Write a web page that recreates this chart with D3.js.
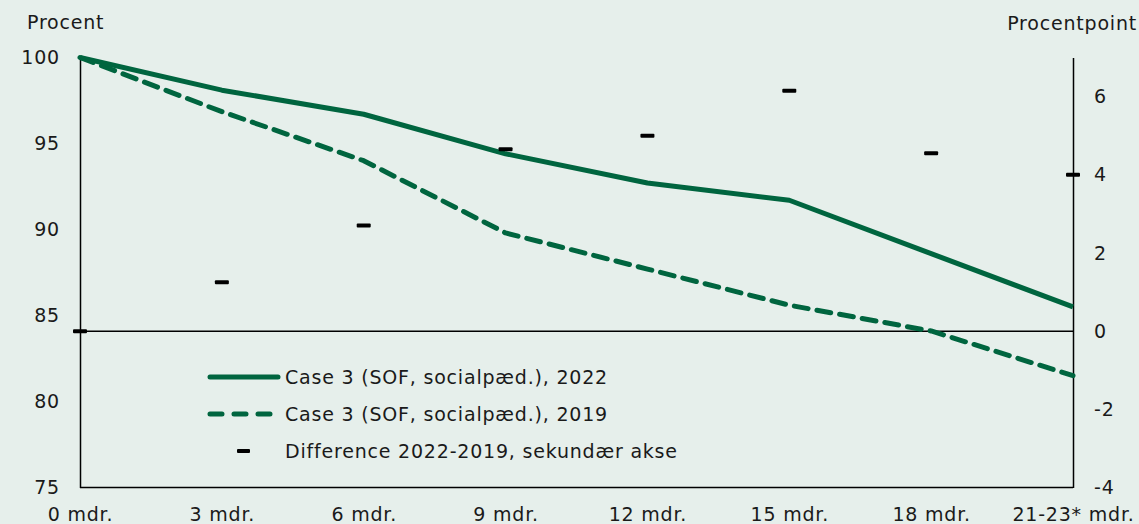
<!DOCTYPE html>
<html><head><meta charset="utf-8">
<script src="https://cdn.jsdelivr.net/npm/d3@7"></script>
<style>
html,body{margin:0;padding:0;background:#e6efeb;}
svg{display:block;}
svg text{letter-spacing:0.8px;}
</style></head>
<body><svg id="c" width="1139" height="524"></svg>
<script>
const categories = ["0 mdr.","3 mdr.","6 mdr.","9 mdr.","12 mdr.","15 mdr.","18 mdr.","21-23* mdr."];
const series2022 = [100, 98.1, 96.7, 94.4, 92.7, 91.7, 88.6, 85.5];
const series2019 = [100, 96.85, 94.0, 89.8, 87.7, 85.6, 84.1, 81.5];
const difference = [0, 1.25, 2.7, 4.65, 5.0, 6.15, 4.55, 4.0];
const leftTicks = [75, 80, 85, 90, 95, 100];
const rightTicks = [-4, -2, 0, 2, 4, 6];
const legendLabels = ["Case 3 (SOF, socialpæd.), 2022","Case 3 (SOF, socialpæd.), 2019","Difference 2022-2019, sekundær akse"];

const green = "#00653f";
const FONT = "'DejaVu Sans',sans-serif";
const svg = d3.select("#c").attr("font-family",FONT);
svg.append("rect").attr("width",1139).attr("height",524).attr("fill","#e6efeb");
const L=80, R=1073, T=57.5, B=487.5;
const x = d3.scalePoint().domain(categories).range([L,R]);
const yL = d3.scaleLinear().domain([75,100]).range([B,T]);
const yR = d3.scaleLinear().domain([-4,7]).range([B,T]);
const fs = 19;

const axL = svg.append("g").attr("transform",`translate(${L},0)`)
  .call(d3.axisLeft(yL).tickValues(leftTicks).tickSize(0).tickPadding(20));
const axR = svg.append("g").attr("transform",`translate(${R},0)`)
  .call(d3.axisRight(yR).tickValues(rightTicks).tickFormat(d=>String(d)).tickSize(0).tickPadding(21));
const axB = svg.append("g").attr("transform",`translate(0,${B})`)
  .call(d3.axisBottom(x).tickSize(0).tickPadding(20));
[axL,axR,axB].forEach(a=>{
  a.select(".domain").attr("stroke","#000").attr("stroke-width",1.5);
  a.selectAll("text").attr("font-size",fs).attr("fill","#1a1a1a").attr("font-family",FONT);
});
axB.select(".domain").remove();
svg.append("line").attr("x1",L).attr("x2",R).attr("y1",B).attr("y2",B).attr("stroke","#000").attr("stroke-width",1.5);
svg.append("line").attr("x1",L).attr("x2",R).attr("y1",yR(0)).attr("y2",yR(0)).attr("stroke","#000").attr("stroke-width",1.5);

svg.append("text").attr("x",27).attr("y",29).attr("font-size",fs).attr("fill","#1a1a1a").text("Procent");
svg.append("text").attr("x",1137).attr("y",30).attr("text-anchor","end").attr("font-size",fs).attr("fill","#1a1a1a").text("Procentpoint");

const line = d3.line().x((d,i)=>x(categories[i])).y(d=>yL(d));
svg.append("path").datum(series2019).attr("d",line).attr("fill","none").attr("stroke",green)
  .attr("stroke-width",5).attr("stroke-dasharray","14,9").attr("stroke-linecap","round").attr("stroke-linejoin","round");
svg.append("path").datum(series2022).attr("d",line).attr("fill","none").attr("stroke",green)
  .attr("stroke-width",5).attr("stroke-linejoin","round");

svg.selectAll(".mk").data(difference).enter().append("rect")
  .attr("x",(d,i)=>x(categories[i])-7).attr("y",d=>yR(d)-2).attr("width",14).attr("height",4)
  .attr("rx",1).attr("fill","#000");

const lg = svg.append("g");
lg.append("line").attr("x1",210).attr("x2",278).attr("y1",377).attr("y2",377).attr("stroke",green).attr("stroke-width",5).attr("stroke-linecap","round");
lg.append("line").attr("x1",210).attr("x2",272).attr("y1",414).attr("y2",414).attr("stroke",green).attr("stroke-width",5).attr("stroke-linecap","round").attr("stroke-dasharray","12,12");
lg.append("rect").attr("x",237).attr("y",449).attr("width",13).attr("height",4).attr("rx",1).attr("fill","#000");
legendLabels.forEach((t,i)=>{
  lg.append("text").attr("x",285).attr("y",377+37*i).attr("dy","0.35em").attr("font-size",fs).attr("fill","#1a1a1a").text(t);
});
</script></body></html>
